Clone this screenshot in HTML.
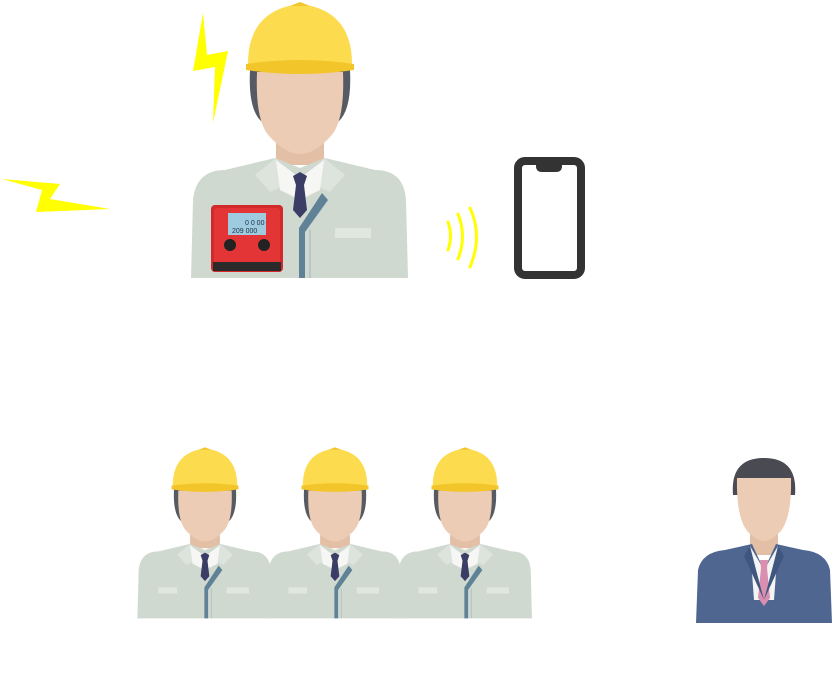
<!DOCTYPE html>
<html><head><meta charset="utf-8"><style>html,body{margin:0;padding:0;background:#fff}svg{display:block}</style></head>
<body>
<svg width="833" height="691" viewBox="0 0 833 691" xmlns="http://www.w3.org/2000/svg">
<defs>
<g id="w">
  <path d="M250,70 Q248,110 262,122 L338,122 Q352,110 350,70 Z" fill="#555a63"/>
  <path d="M276,120 L276,165 L324,165 L324,120 Z" fill="#e3bfa6"/>
  <path d="M257,72 L343,72 Q345,122 330,137 Q314,154 300,154 Q286,154 270,137 Q255,122 257,72 Z" fill="#ecccb5"/>
  <path d="M191,278 L193,200 Q196,170 225,170 L275,158 L300,168 L325,158 L375,170 Q404,170 406,200 L408,278 Z" fill="#d0d9d0"/>
  <path d="M255,175 L276,158 L300,195 L324,158 L345,175 L330,192 L300,178 L270,192 Z" fill="#dde4dd"/>
  <path d="M276,160 L300,178 L324,160 L320,190 L300,200 L280,190 Z" fill="#f6f6f4"/>
  <path d="M293,176 L300,172 L307,176 L304,185 L307,210 L300,218 L293,210 L296,185 Z" fill="#3a3d66"/>
  <path d="M322,193 L328,200 L305,232 L305,278 L299,278 L299,228 Z" fill="#5f8296"/>
  <line x1="310" y1="230" x2="310" y2="278" stroke="#9fb4bd" stroke-width="1"/>
  <rect x="335" y="228" width="36" height="10" fill="#e0e7e0"/>
  <rect x="225" y="228" width="30" height="10" fill="#e0e7e0"/>
  <path d="M248,64 Q248,10 300,4 Q352,10 352,64 Z" fill="#fcdc4e"/>
  <path d="M246,64 Q300,56 354,64 L354,70 Q300,78 246,70 Z" fill="#f2c52a"/>
  <path d="M290,6 L300,2 L310,6 Z" fill="#f2c52a"/>
</g>
</defs>

<polygon points="203,13 193,71 215,67 213,123 228,51 207,55" fill="#ffff00"/>
<polygon points="2,179 60,184 50,199 110,209 36,212 42,190" fill="#ffff00"/>

<use href="#w"/>
<rect x="211" y="205" width="72" height="67" rx="4" fill="#d22a2a"/>
<rect x="214" y="208" width="66" height="58" rx="3" fill="#e33535"/>
<rect x="228" y="213" width="38" height="22" fill="#9fcbe0"/>
<text x="245" y="225" font-family="Liberation Sans, sans-serif" font-size="7" fill="#234">0  0 00</text>
<text x="232" y="233" font-family="Liberation Sans, sans-serif" font-size="7" fill="#234">209  000</text>
<circle cx="230" cy="245" r="6" fill="#222"/>
<circle cx="264" cy="245" r="6" fill="#222"/>
<rect x="213" y="262" width="68" height="9" fill="#2a2a2a"/>

<g fill="none" stroke="#ffff00" stroke-width="3" stroke-linecap="round">
  <path d="M448,222 Q453,236 448,250"/>
  <path d="M458,214 Q467,236 458,259"/>
  <path d="M470,208 Q483,236 470,267"/>
</g>

<rect x="518" y="161" width="63" height="114" rx="7" fill="none" stroke="#333" stroke-width="8"/>
<path d="M536,161 L562,161 L562,166 Q562,172 556,172 L542,172 Q536,172 536,166 Z" fill="#333"/>

<use href="#w" transform="translate(19,446) scale(0.62)"/>
<use href="#w" transform="translate(149,446) scale(0.62)"/>
<use href="#w" transform="translate(279,446) scale(0.62)"/>

<path d="M733,495 Q730,458 764,458 Q798,458 795,495 Z" fill="#4a4a52"/>
<rect x="750" y="525" width="28" height="30" fill="#e3bfa6"/>
<path d="M737,478 L791,478 Q792,520 779,533 Q770,541 764,541 Q758,541 749,533 Q736,520 737,478 Z" fill="#ecccb5"/>
<path d="M696,623 L698,570 Q702,552 725,550 L752,544 L764,570 L776,544 L803,550 Q826,552 830,570 L832,623 Z" fill="#4f6690"/>
<path d="M750,546 L764,570 L778,546 L774,600 L754,600 Z" fill="#f4f4f4"/>
<path d="M760,560 L768,560 L767,568 L770,598 L764,606 L758,598 L761,568 Z" fill="#d98fb0"/>
<path d="M750,546 L744,556 L764,600 L754,562 Z" fill="#3f5680"/>
<path d="M778,546 L784,556 L764,600 L774,562 Z" fill="#3f5680"/>
</svg>
</body></html>
